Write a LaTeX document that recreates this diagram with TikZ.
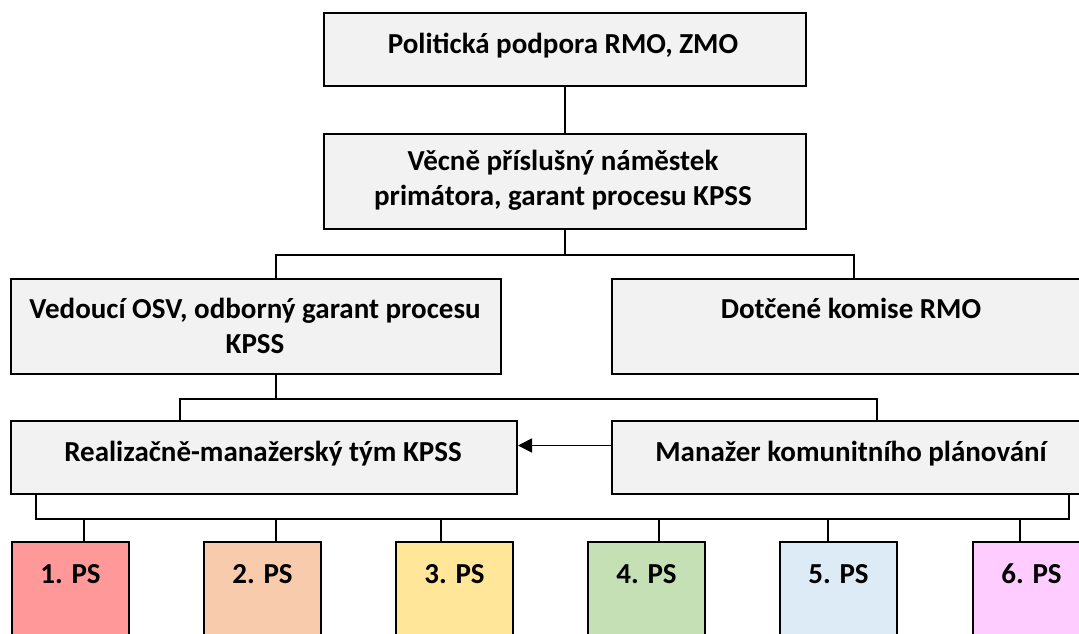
\documentclass[tikz,border=0pt]{standalone}
\usepackage{fontspec}
\setmainfont{Carlito}
\usetikzlibrary{arrows.meta}
\definecolor{boxgray}{HTML}{F2F2F2}
\definecolor{ps1}{HTML}{FF9999}
\definecolor{ps2}{HTML}{F8CBAD}
\definecolor{ps3}{HTML}{FFE699}
\definecolor{ps4}{HTML}{C5E0B4}
\definecolor{ps5}{HTML}{DDEBF7}
\definecolor{ps6}{HTML}{FFCCFF}
\begin{document}
\begin{tikzpicture}[x=1pt,y=-1pt,
  box/.style={draw=black, line width=2pt, fill=boxgray, inner sep=0pt, anchor=north west},
  psbox/.style={box, minimum width=117pt, minimum height=110pt},
  txt/.style={font=\fontsize{29}{34}\selectfont\bfseries, inner sep=0pt, anchor=base},
  conn/.style={draw=black, line width=1.7pt},
  arr/.style={conn, -{Triangle[length=14pt,width=14pt]}}]
\useasboundingbox (0,0) rectangle (1079,633);
\clip (0,0) rectangle (1079,633);

% grey boxes
\node[box, minimum width=482pt, minimum height=73pt] (top) at (323,12) {};
\node[box, minimum width=482pt, minimum height=95pt] (b2) at (323,133) {};
\node[box, minimum width=490pt, minimum height=95pt] (b3) at (10,278) {};
\node[box, minimum width=480pt, minimum height=95pt] (b4) at (611,278) {};
\node[box, minimum width=506pt, minimum height=73pt] (b5) at (10,420) {};
\node[box, minimum width=480pt, minimum height=73pt] (b6) at (611,420) {};

% coloured boxes
\node[psbox, fill=ps1] (p1) at (11,541) {};
\node[psbox, fill=ps2] (p2) at (203,541) {};
\node[psbox, fill=ps3] (p3) at (395,541) {};
\node[psbox, fill=ps4] (p4) at (587,541) {};
\node[psbox, fill=ps5] (p5) at (779,541) {};
\node[psbox, fill=ps6] (p6) at (972,541) {};

% texts
\node[txt] (ttop) at (563,53) {Politická podpora RMO, ZMO};
\node[txt] (t2a) at (563,170) {Věcně příslušný náměstek};
\node[txt] (t2b) at (563,205) {primátora, garant procesu KPSS};
\node[txt] (t3a) at (255,318) {Vedoucí OSV, odborný garant procesu};
\node[txt] (t3b) at (255,353) {KPSS};
\node[txt] (t4) at (851,318) {Dotčené komise RMO};
\node[txt] (t5) at (263,461) {Realizačně-manažerský tým KPSS};
\node[txt] (t6) at (851,461) {Manažer komunitního plánování};
\node[txt] (tp1) at (p1.north |- 0,583) {1. PS};
\node[txt] (tp2) at (p2.north |- 0,583) {2. PS};
\node[txt] (tp3) at (p3.north |- 0,583) {3. PS};
\node[txt] (tp4) at (p4.north |- 0,583) {4. PS};
\node[txt] (tp5) at (p5.north |- 0,583) {5. PS};
\node[txt] (tp6) at (p6.north |- 0,583) {6. PS};

% connectors
\draw[conn] (top.south) -- (b2.north);
\draw[conn] (b2.south) -- ++(0,25) coordinate (j1);
\draw[conn] ([xshift=20pt]b3.north) |- (j1) -| ([xshift=2pt]b4.north);
\draw[conn] ([xshift=20pt]b3.south) -- ++(0,24) coordinate (j2);
\draw[conn] ([xshift=-84pt]b5.north) |- (j2) -| ([xshift=25pt]b6.north);
\draw[arr] ([yshift=12pt]b6.west) -- ([yshift=12pt]b5.east);
\draw[conn] ([xshift=-228pt]b5.south) -- ++(0,24) coordinate (j3) -| ([xshift=217pt]b6.south);
\draw[conn] ([xshift=13.5pt]p1.north) -- ([xshift=13.5pt]p1.north |- j3);
\draw[conn] ([xshift=13.5pt]p2.north) -- ([xshift=13.5pt]p2.north |- j3);
\draw[conn] ([xshift=-13.5pt]p3.north) -- ([xshift=-13.5pt]p3.north |- j3);
\draw[conn] ([xshift=12.5pt]p4.north) -- ([xshift=12.5pt]p4.north |- j3);
\draw[conn] ([xshift=-10.5pt]p5.north) -- ([xshift=-10.5pt]p5.north |- j3);
\draw[conn] ([xshift=-11.5pt]p6.north) -- ([xshift=-11.5pt]p6.north |- j3);
\end{tikzpicture}
\end{document}
